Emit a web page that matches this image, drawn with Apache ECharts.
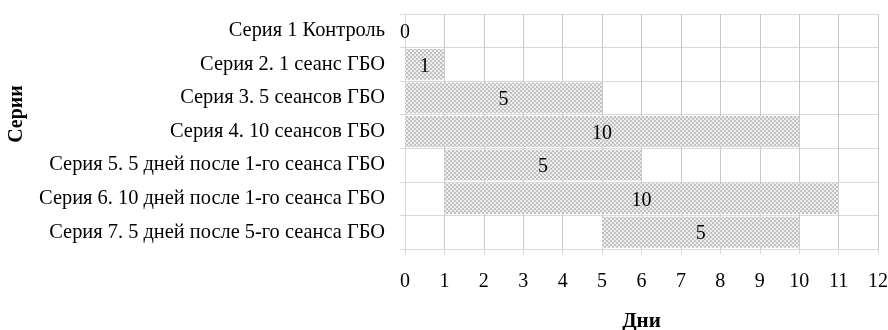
<!DOCTYPE html>
<html>
<head>
<meta charset="utf-8">
<script src="https://cdn.jsdelivr.net/npm/echarts@6/dist/echarts.min.js"></script>
<style>
  html, body { margin: 0; padding: 0; background: #fff; }
  #chart { width: 888px; height: 330px; }
</style>
</head>
<body>
<div id="chart"></div>
<script>
// Series names (top to bottom)
var categories = [
  'Серия 1 Контроль',
  'Серия 2. 1 сеанс ГБО',
  'Серия 3. 5 сеансов ГБО',
  'Серия 4. 10 сеансов ГБО',
  'Серия 5. 5 дней после 1-го сеанса ГБО',
  'Серия 6. 10 дней после 1-го сеанса ГБО',
  'Серия 7. 5 дней после 5-го сеанса ГБО'
];
// Day on which each series starts
var startDay = [0, 0, 0, 0, 1, 1, 5];
// Duration of each series in days
var durationDays = [0, 1, 5, 10, 5, 10, 5];
// Day axis ticks
var dayTicks = [0, 1, 2, 3, 4, 5, 6, 7, 8, 9, 10, 11, 12];

var FONT = '"Liberation Serif", "Times New Roman", serif';

// Dotted grey fill for the duration bars
function makePattern() {
  var c = document.createElement('canvas');
  c.width = 4; c.height = 4;
  var ctx = c.getContext('2d');
  ctx.fillStyle = '#c2c2c2';
  ctx.fillRect(0, 0, 4, 4);
  ctx.fillStyle = '#eeeeee';
  ctx.fillRect(0, 0, 2, 2);
  ctx.fillRect(2, 2, 2, 2);
  return c;
}

var chart = echarts.init(document.getElementById('chart'), null, { renderer: 'canvas' });
chart.setOption({
  animation: false,
  backgroundColor: '#ffffff',
  grid: { left: 405, right: 10, top: 14, bottom: 81, containLabel: false, outerBoundsMode: 'none' },
  // Vertical axis title, placed a little above the plot centre
  graphic: [{
    type: 'text',
    x: 17,
    y: 114,
    rotation: Math.PI / 2,
    style: {
      text: 'Серии',
      fontFamily: FONT,
      fontSize: 20,
      fontWeight: 'bold',
      fill: '#000',
      align: 'center',
      verticalAlign: 'middle'
    }
  }],
  xAxis: {
    type: 'value',
    min: dayTicks[0],
    max: dayTicks[dayTicks.length - 1],
    interval: 1,
    name: 'Дни',
    nameLocation: 'middle',
    nameGap: 62,
    nameTextStyle: { fontFamily: FONT, fontSize: 21, fontWeight: 'bold', color: '#000' },
    axisLine: { show: true, lineStyle: { color: '#d9d9d9', width: 1 } },
    axisTick: { show: true, length: 5, lineStyle: { color: '#d9d9d9' } },
    axisLabel: { margin: 23, fontFamily: FONT, fontSize: 20, color: '#000' },
    splitLine: { show: true, lineStyle: { color: '#c8c8c8', width: 1 } }
  },
  yAxis: {
    type: 'category',
    inverse: true,
    data: categories,
    axisLine: { show: true, lineStyle: { color: '#d9d9d9', width: 1 } },
    axisTick: { show: true, length: 5, lineStyle: { color: '#d9d9d9' } },
    axisLabel: { margin: 20, fontFamily: FONT, fontSize: 20.4, color: '#000', padding: [4, 0, 0, 0] },
    splitLine: { show: true, lineStyle: { color: '#d9d9d9', width: 1 } }
  },
  series: [
    {
      name: 'start',
      type: 'bar',
      stack: 'gantt',
      data: startDay,
      barCategoryGap: '8%',
      itemStyle: { color: 'rgba(0,0,0,0)' },
      silent: true
    },
    {
      name: 'duration',
      type: 'bar',
      stack: 'gantt',
      data: durationDays,
      barCategoryGap: '8%',
      itemStyle: { color: { image: makePattern(), repeat: 'repeat' } },
      label: {
        show: true,
        position: 'inside',
        offset: [0, 2],
        fontFamily: FONT,
        fontSize: 20,
        color: '#000',
        formatter: function (p) { return p.value; }
      }
    }
  ]
});
</script>
</body>
</html>
